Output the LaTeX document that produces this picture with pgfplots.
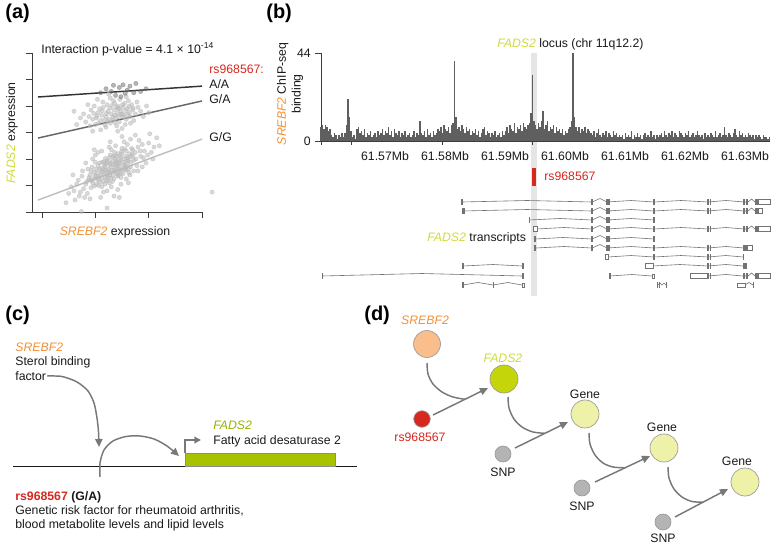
\documentclass[border=0pt]{standalone}
\usepackage{pgfplots}
\pgfplotsset{compat=1.18}
\usepackage{pgfplotstable}
\usepackage{fontspec}
\setmainfont{Liberation Sans}
\usetikzlibrary{arrows.meta}

\definecolor{srebf}{RGB}{240,145,55}
\definecolor{fadsl}{RGB}{208,218,60}
\definecolor{fadsd}{RGB}{150,180,0}
\definecolor{rsred}{RGB}{215,40,30}
\definecolor{barg}{RGB}{168,194,0}
\definecolor{fadsc}{RGB}{196,214,10}
\definecolor{genec}{RGB}{238,242,168}
\definecolor{srebfc}{RGB}{250,190,140}
\definecolor{snpc}{RGB}{180,180,180}
\definecolor{arrowc}{RGB}{120,120,120}
\definecolor{txc}{RGB}{115,115,115}
\definecolor{chipc}{RGB}{95,95,95}
\definecolor{axc}{RGB}{60,60,60}
\definecolor{textc}{RGB}{25,25,25}
\definecolor{ptc}{RGB}{185,185,185}
\definecolor{ptd}{RGB}{110,110,110}

\newcommand{\fs}{\fontsize{9.2}{11}\selectfont}
\newcommand{\lab}{\fontsize{15}{18}\selectfont\bfseries}
\newcommand{\ex}[3]{\addplot[exf] coordinates {(#1,#3)(#2,#3)};}
\newcommand{\ub}[4]{\addplot[utr] coordinates {(#1,#3)(#2,#3)(#2,#4)(#1,#4)} -- cycle;}

\pgfplotstableread[row sep=\\]{y\\
7\\8\\6\\8\\7\\5\\6\\3\\2\\4\\3\\1\\3\\2\\4\\2\\4\\8\\21\\12\\5\\
2\\3\\1\\6\\7\\4\\5\\3\\6\\2\\4\\3\\5\\2\\3\\4\\2\\5\\3\\
4\\6\\3\\5\\4\\7\\3\\5\\2\\6\\4\\3\\5\\2\\4\\3\\5\\2\\3\\4\\2\\3\\5\\2\\4\\3\\
10\\4\\3\\5\\2\\6\\3\\4\\2\\5\\3\\4\\6\\5\\7\\4\\8\\6\\5\\7\\4\\8\\9\\
40\\12\\6\\7\\5\\8\\6\\4\\7\\5\\6\\
3\\5\\4\\6\\3\\5\\2\\4\\6\\7\\3\\5\\4\\2\\4\\3\\5\\2\\3\\4\\2\\5\\3\\
5\\7\\4\\8\\6\\5\\9\\4\\7\\6\\8\\5\\9\\7\\6\\8\\9\\
14\\33\\10\\8\\6\\9\\7\\10\\15\\
6\\8\\10\\5\\7\\6\\8\\4\\7\\5\\6\\4\\6\\3\\5\\4\\6\\7\\10\\
44\\12\\7\\5\\7\\4\\6\\5\\7\\4\\6\\5\\4\\
3\\5\\2\\4\\6\\3\\2\\4\\3\\5\\2\\4\\3\\2\\5\\3\\4\\2\\3\\
2\\3\\1\\4\\2\\3\\2\\5\\1\\3\\2\\4\\2\\3\\1\\3\\4\\2\\3\\2\\5\\2\\3\\1\\3\\2\\
3\\4\\2\\5\\3\\2\\4\\3\\5\\2\\4\\3\\2\\5\\4\\3\\2\\4\\3\\5\\2\\3\\4\\2\\3\\5\\3\\
2\\3\\1\\4\\2\\3\\2\\4\\3\\2\\5\\2\\3\\4\\2\\3\\7\\3\\2\\4\\3\\2\\4\\6\\3\\2\\5\\3\\4\\2\\
3\\2\\4\\3\\2\\3\\1\\3\\2\\3\\2\\1\\3\\2\\2\\1\\2\\
}\chipdata

\begin{document}
\fs
\begin{tikzpicture}
%================ overlay (diagram layer, pixel coordinates) =================
\begin{axis}[name=ov, at={(0,0)}, anchor=north west, width=582pt, height=408.75pt,
  scale only axis, xmin=0, xmax=776, ymin=0, ymax=545, y dir=reverse,
  axis lines=none, clip=false, enlargelimits=false,
  intr/.style={draw=txc, line width=0.45pt},
  exf/.style={draw=txc, line width=4.5pt},
  utr/.style={draw=txc, line width=0.45pt, fill=white},
  arr/.style={draw=arrowc, line width=1.1pt, -{Triangle[length=6pt,width=5.5pt]}}]
% highlight band
\addplot[draw=none, fill=black!10] coordinates {(531,53)(537,53)(537,296)(531,296)} -- cycle;
% small x tick marks of the ChIP track
\addplot[draw=axc, line width=0.5pt] coordinates {(321,141)(321,145)};
\addplot[draw=axc, line width=0.5pt] coordinates {(351,141)(351,145)};
\addplot[draw=axc, line width=0.5pt] coordinates {(442,141)(442,145)};
\addplot[draw=axc, line width=0.5pt] coordinates {(532,141)(532,145)};
% panel labels
\node[anchor=west, font=\lab] at (axis cs:1,13) {(a)};
\node[anchor=west, font=\lab] at (axis cs:262,13) {(b)};
\node[anchor=west, font=\lab] at (axis cs:1,315) {(c)};
\node[anchor=west, font=\lab] at (axis cs:360,315) {(d)};
% panel (a) texts
\node[anchor=west, text=textc] at (axis cs:37,49) {Interaction p-value = 4.1 × 10\textsuperscript{-14}};
\node[anchor=west, text=rsred] at (axis cs:205,69) {rs968567:};
\node[anchor=west, text=textc] at (axis cs:205,84) {A/A};
\node[anchor=west, text=textc] at (axis cs:205,99) {G/A};
\node[anchor=west, text=textc] at (axis cs:205,137) {G/G};
\node[rotate=90, text=textc] at (axis cs:12,133) {\textcolor{fadsl}{\itshape FADS2} expression};
\node[text=textc] at (axis cs:115,232) {\textcolor{srebf}{\itshape SREBF2} expression};
% panel (b) texts
\node[anchor=west, text=textc] at (axis cs:493,44) {\textcolor{fadsl}{\itshape FADS2} locus (chr 11q12.2)};
\node[rotate=90, align=center, text=textc] at (axis cs:290,94) {\textcolor{srebf}{\itshape SREBF2} ChIP-seq\\binding};
\addplot[draw=rsred, line width=3pt] coordinates {(534,168)(534,186)};
\node[anchor=west, text=rsred] at (axis cs:540,176) {rs968567};
\node[anchor=west, text=textc] at (axis cs:423,238) {\textcolor{fadsl}{\itshape FADS2} transcripts};
% transcripts
% row 1
\addplot[intr] coordinates {(462,202)(527,200.5)(592,202)(600,198.5)(607,202)(631,200.5)(654,202)(681,200.5)(708,202)(726,200.5)(744,202)(748,202)(751.5,199)(755,202)(758,202)};
\ex{461}{463}{202}\ex{591}{593}{202}\ex{606}{609.5}{202}\ex{653}{655}{202}\ex{707}{708.5}{202}\ex{709.5}{711}{202}\ex{743}{744.5}{202}\ex{745.5}{747.5}{202}\ex{755}{758}{202}
\ub{758}{770}{199.5}{204.5}
% row 2
\addplot[intr] coordinates {(463,211)(527,209.5)(592,211)(600,207.5)(607,211)(631,209.5)(654,211)(681,209.5)(708,211)(726,209.5)(744,211)(748,211)(751.5,208)(755,211)};
\ex{462}{464.5}{211}\ex{591}{593}{211}\ex{606}{609.5}{211}\ex{653}{655}{211}\ex{707}{708.5}{211}\ex{709.5}{711}{211}\ex{743}{744.5}{211}\ex{745.5}{747.5}{211}\ex{755}{758}{211}
\ub{758}{762}{208.5}{213.5}
% row 3
\addplot[intr] coordinates {(529,220)(560,218.5)(592,220)(600,216.5)(607,220)(631,218.5)(654,220)};
\ex{528.5}{530}{220}\ex{591}{593}{220}\ex{606}{609.5}{220}\ex{653}{655}{220}
% row 4
\addplot[intr] coordinates {(537,229)(564,227.5)(592,229)(600,225.5)(607,229)(631,227.5)(654,229)(681,227.5)(708,229)(726,227.5)(744,229)(748,229)(751.5,226)(755,229)(758,229)};
\ub{533}{537}{226.5}{231.5}
\ex{591}{593}{229}\ex{606}{609.5}{229}\ex{653}{655}{229}\ex{707}{708.5}{229}\ex{709.5}{711}{229}\ex{743}{744.5}{229}\ex{745.5}{747.5}{229}\ex{755}{758}{229}
\ub{758}{770}{226.5}{231.5}
% row 5
\addplot[intr] coordinates {(535,239)(563,237.5)(592,239)(600,235.5)(607,239)(631,237.5)(654,239)};
\ex{533.5}{535.5}{239}\ex{591}{593}{239}\ex{606}{609.5}{239}\ex{653}{655}{239}
% row 6
\addplot[intr] coordinates {(536,248)(564,246.5)(592,248)(600,244.5)(607,248)(631,246.5)(654,248)(681,246.5)(708,248)(726,246.5)(744,248)};
\ex{534}{536}{248}\ex{591}{593}{248}\ex{606}{609.5}{248}\ex{653}{655}{248}\ex{707}{708.5}{248}\ex{709.5}{711}{248}\ex{743}{747.5}{248}
\ub{747.5}{752}{245.5}{250.5}
% row 7
\addplot[intr] coordinates {(608,257)(631,255.5)(654,257)(681,255.5)(708,257)(726,255.5)(743,257)};
\ub{605}{608}{254.5}{259.5}
\ex{653}{655}{257}\ex{707}{708.5}{257}\ex{709.5}{711}{257}\ex{742.5}{744}{257}
% row 8
\addplot[intr] coordinates {(463,266)(493,264.5)(522,266)};
\ex{462}{463.5}{266}\ex{521.5}{524}{266}
\addplot[intr] coordinates {(653,266)(680,264.5)(708,266)(726,264.5)(743,266)};
\ub{645}{653}{263.5}{268.5}
\ex{707}{708.5}{266}\ex{709.5}{711}{266}\ex{743}{747}{266}
% row 9
\addplot[intr] coordinates {(322,276)(422,273.5)(522,276)};
\ex{321.5}{323}{276}\ex{521.5}{524}{276}
\addplot[intr] coordinates {(610,276)(632,274.5)(652,276)};
\ex{609}{610.5}{276}
\ub{652}{654}{274}{278}
\addplot[intr] coordinates {(708,276)(726,274.5)(743,276)(748,276)(751.5,273)(755,276)};
\ub{690}{707}{273.5}{278.5}
\ex{707}{708.5}{276}\ex{709.5}{711}{276}\ex{743}{744.5}{276}\ex{745.5}{747.5}{276}\ex{755}{758}{276}
\ub{758}{770}{273.5}{278.5}
% row 10
\addplot[intr] coordinates {(463,285)(478,282.5)(493,285)(508,282.5)(522,285)};
\ex{462}{463.5}{285}\ex{492.5}{494}{285}
\ub{522}{524}{283}{287}
\addplot[intr] coordinates {(658,285)(660,283)(662,285)(664,283)(666,285)};
\ex{656.5}{657.5}{285}\ex{658.5}{659.5}{285}\ex{665.5}{666.5}{285}
\addplot[intr] coordinates {(745,285)(749,282.5)(753,285)};
\ub{737}{745}{283}{287}
\ex{753}{754}{285}
% ---------------- panel (c) ----------------
\addplot[draw=textc, line width=0.6pt] coordinates {(13,466)(357,466)};
\addplot[fill=barg, draw=black!45, line width=0.5pt] coordinates {(185,453)(335,453)(335,466)(185,466)} -- cycle;
\addplot[draw=arrowc, line width=1pt, -{Triangle[length=5pt,width=5pt]}] coordinates {(185,453)(185,440)(201,440)};
\addplot[arr, smooth] coordinates {(100,477)(100,463)(104,450)(113,441)(126,436.5)(140,436)(154,439)(167,446)(179,456)};
\addplot[arr, smooth] coordinates {(47,376)(62,376.5)(77,382)(88,391)(94,403)(97,418)(98.5,432)(99,447)};
\node[anchor=west, text=srebf, font=\fs\itshape] at (axis cs:11,347) {SREBF2};
\node[anchor=west, text=textc] at (axis cs:11,362) {Sterol binding};
\node[anchor=west, text=textc] at (axis cs:11,376) {factor};
\node[anchor=west, text=fadsd, font=\fs\itshape] at (axis cs:209,425) {FADS2};
\node[anchor=west, text=textc] at (axis cs:209,441) {Fatty acid desaturase 2};
\node[anchor=west, font=\fs\bfseries, text=textc] at (axis cs:11,497) {\textcolor{rsred}{rs968567} (G/A)};
\node[anchor=west, text=textc] at (axis cs:11,511) {Genetic risk factor for rheumatoid arthritis,};
\node[anchor=west, text=textc] at (axis cs:11,525) {blood metabolite levels and lipid levels};
% ---------------- panel (d) ----------------
\addplot[arr] coordinates {(433,415)(488,388)};
\addplot[arr] coordinates {(515,448)(568,422)};
\addplot[arr] coordinates {(595,482)(650,456)};
\addplot[arr] coordinates {(675,517)(728,489)};
\addplot[draw=arrowc, line width=1.1pt, smooth] coordinates {(427,363)(428,374)(433,384)(442,392)(453,397)(465,399.3)};
\addplot[draw=arrowc, line width=1.1pt, smooth] coordinates {(508,397)(509,408)(514,419)(522,427)(533,432)(545,433.3)};
\addplot[draw=arrowc, line width=1.1pt, smooth] coordinates {(589,433)(590,444)(595,455)(603,463)(613,467)(625,467.8)};
\addplot[draw=arrowc, line width=1.1pt, smooth] coordinates {(668,467)(669,478)(674,489)(682,497)(692,501.5)(703,502.2)};
\addplot[only marks, mark=*, mark size=10.1pt, mark options={fill=srebfc, draw=black!40, line width=0.5pt}] coordinates {(427,344)};
\addplot[only marks, mark=*, mark size=10.5pt, mark options={fill=fadsc, draw=black!40, line width=0.5pt}] coordinates {(504,379)};
\addplot[only marks, mark=*, mark size=10.5pt, mark options={fill=genec, draw=black!40, line width=0.5pt}] coordinates {(585,414)(664,448)(745,482)};
\addplot[only marks, mark=*, mark size=6.2pt, mark options={fill=rsred, draw=black!40, line width=0.5pt}] coordinates {(422,419)};
\addplot[only marks, mark=*, mark size=6pt, mark options={fill=snpc, draw=black!40, line width=0.5pt}] coordinates {(503,454)(582,488)(663,522)};
\node[text=srebf, font=\fs\itshape] at (axis cs:425,320) {SREBF2};
\node[text=fadsl, font=\fs\itshape] at (axis cs:503,358) {FADS2};
\node[text=rsred] at (axis cs:420,437) {rs968567};
\node[text=textc] at (axis cs:585,394) {Gene};
\node[text=textc] at (axis cs:662,427) {Gene};
\node[text=textc] at (axis cs:737,461) {Gene};
\node[text=textc] at (axis cs:503,472) {SNP};
\node[text=textc] at (axis cs:582,506) {SNP};
\node[text=textc] at (axis cs:663,538) {SNP};
\end{axis}

%================ panel (a): scatter =================
\begin{axis}[at={(24pt,-159pt)}, anchor=south west, width=127.5pt, height=119.25pt,
  scale only axis, xmin=-0.1875, xmax=3, ymin=0, ymax=6,
  axis x line*=bottom, axis y line*=left,
  axis line style={-, draw=axc, line width=0.5pt},
  tick align=outside, tick style={draw=axc, line width=0.5pt}, major tick length=4.5pt,
  xtick={0,1,2,3}, ytick={0,1,2,3,4,5,6}, xticklabels={}, yticklabels={}, clip=false]
\addplot[only marks, mark=*, mark size=1.6pt, color=ptc, opacity=0.55] coordinates {
(1.02,1.35)(1.15,1.62)(1.28,1.48)(1.40,1.85)(0.95,1.10)(1.22,1.95)(1.35,1.25)(1.48,2.05)(1.10,1.40)(1.30,1.70)
(1.55,1.60)(0.88,1.22)(1.18,1.05)(1.42,2.20)(1.25,1.55)(1.62,1.95)(1.05,1.75)(1.33,1.38)(0.98,1.50)(1.45,1.72)
(1.70,2.10)(1.12,1.28)(1.38,2.00)(0.92,0.92)(1.20,1.82)(1.52,1.45)(1.28,2.15)(1.08,1.60)(1.58,2.30)(1.36,1.58)
(0.82,1.05)(1.15,1.15)(1.44,1.90)(1.66,1.70)(1.24,1.30)(1.00,1.88)(1.50,2.40)(1.32,1.92)(0.90,1.40)(1.75,2.25)
(1.18,1.70)(1.40,1.45)(1.26,1.10)(1.60,1.82)(1.06,1.20)(1.46,2.12)(0.86,1.62)(1.30,2.35)(1.72,1.55)(1.12,0.95)
(1.55,2.00)(1.22,1.40)(0.96,1.25)(1.38,1.65)(1.80,2.45)(1.04,1.48)(1.48,1.30)(1.16,1.90)(1.64,2.20)(0.78,0.88)
(1.34,1.80)(1.58,1.58)(1.10,1.65)(1.42,1.35)(0.94,1.70)(1.26,2.05)(1.68,2.40)(1.20,1.22)(1.52,1.88)(1.02,1.05)
(1.85,2.10)(1.36,2.25)(0.88,1.30)(1.14,1.52)(1.62,1.62)(1.28,1.85)(1.46,1.55)(0.98,0.98)(1.76,2.00)(1.08,1.85)
(1.40,2.10)(1.24,1.62)(1.56,1.75)(0.84,1.15)(1.32,1.15)(1.70,2.35)(1.18,1.35)(1.50,2.20)(0.92,1.55)(1.44,1.60)
(1.92,2.30)(0.72,0.75)(1.60,2.55)(1.06,1.00)(2.00,2.60)(0.65,1.05)(1.95,1.85)(0.80,0.55)(1.82,2.70)(0.60,0.80)
(2.05,2.25)(0.75,1.35)(1.88,2.55)(1.22,0.80)(1.00,2.15)(1.65,1.40)(1.12,2.30)(1.48,1.05)(0.70,0.60)(2.10,2.45)
(1.78,1.75)(0.85,0.70)(1.54,2.65)(1.30,0.95)(0.95,2.00)(1.90,2.05)(0.55,0.95)(1.38,2.50)(1.72,1.95)(1.15,0.75)
(0.68,1.20)(1.84,2.30)(1.26,2.45)(1.58,1.25)(0.90,0.50)(2.15,2.80)(1.42,0.85)(1.05,2.25)(1.98,2.15)(0.76,1.55)
(1.35,0.60)(1.66,2.75)(0.62,0.45)(1.80,1.55)(1.10,0.55)(2.02,2.95)(0.50,0.70)(1.50,2.85)(1.62,1.10)(0.98,2.35)
(1.22,0.15)(2.20,2.50)(0.58,1.40)(1.75,2.90)(1.45,0.55)(0.45,0.35)(1.28,2.65)(1.88,1.70)(0.82,1.85)(2.08,2.00)
(1.13,1.50)(1.27,1.78)(1.37,1.52)(1.47,1.95)(1.57,2.10)(1.07,1.32)(1.19,1.58)(1.29,1.28)(1.41,1.72)(1.51,1.62)
(1.61,2.05)(1.01,1.62)(1.23,1.88)(1.33,2.08)(1.43,1.40)(1.53,1.78)(1.63,1.48)(1.09,1.12)(1.21,1.48)(1.31,1.58)
(1.39,1.92)(1.49,2.28)(1.59,1.92)(1.69,2.18)(0.99,1.38)(1.17,1.78)(1.27,1.38)(1.37,1.78)(1.47,1.45)(1.57,1.68)
(1.67,1.88)(0.93,1.18)(1.13,1.88)(1.23,1.18)(1.35,2.12)(1.45,1.82)(1.55,2.38)(1.65,2.08)(1.03,1.25)(1.19,2.02)
(0.74,0.02)(3.19,0.75)
(1.20,3.60)(1.35,3.85)(1.50,3.70)(1.10,3.45)(1.42,4.00)(1.28,3.35)(1.60,3.90)(1.05,3.75)(1.38,3.55)(1.55,4.10)
(1.15,3.95)(1.30,3.70)(1.65,3.60)(0.95,3.50)(1.45,3.40)(1.22,4.05)(1.70,3.85)(1.00,3.30)(1.34,4.20)(1.58,3.50)
(1.12,3.65)(1.48,3.80)(0.88,3.60)(1.26,3.50)(1.62,4.20)(1.40,3.25)(1.08,3.90)(1.75,3.70)(1.18,3.28)(1.52,3.95)
(0.92,3.85)(1.36,3.65)(1.68,4.05)(1.02,3.55)(1.44,3.60)(1.24,3.80)(1.80,3.95)(0.82,3.40)(1.56,3.30)(1.14,4.15)
(1.32,3.45)(1.64,3.75)(0.98,4.00)(1.46,4.25)(1.20,3.20)(1.72,3.45)(0.78,3.70)(1.40,3.95)(1.85,3.80)(1.06,3.35)
(1.54,3.65)(0.90,3.25)(1.28,4.30)(1.66,3.35)(1.10,3.10)(1.96,4.00)(0.72,3.55)(1.50,3.15)(1.36,4.10)(0.86,4.05)
(1.90,3.60)(0.65,3.30)(1.58,4.35)(1.04,4.25)(1.78,4.15)(0.60,3.80)(2.00,3.75)(1.42,3.05)(0.95,3.05)(1.25,4.45)
(1.21,3.72)(1.33,3.58)(1.43,3.88)(1.53,3.58)(1.63,3.98)(1.13,3.82)(1.27,3.92)(1.37,3.38)(1.47,3.68)(1.57,3.82)
(1.03,3.62)(1.17,3.48)(1.31,4.02)(1.41,3.72)(1.51,4.05)(1.61,3.68)(1.71,3.92)(0.97,3.72)(1.23,3.42)(1.45,3.92)
};
\addplot[only marks, mark=*, mark size=1.6pt, color=ptd, opacity=0.5] coordinates {
(1.30,4.55)(1.45,4.70)(1.60,4.60)(1.52,4.80)(1.72,4.50)(1.38,4.40)(1.20,4.65)(1.65,4.75)(1.85,4.55)(1.48,4.35)(1.10,4.50)(1.95,4.65)(1.56,4.48)(1.76,4.85)(1.34,4.78)
};
\addplot[draw=black!80, line width=1.1pt] coordinates {(-0.075,4.34)(3,4.75)};
\addplot[draw=black!60, line width=1.1pt] coordinates {(-0.075,2.79)(3,4.19)};
\addplot[draw=black!25, line width=1.1pt] coordinates {(-0.075,0.45)(3,2.75)};
\end{axis}

%================ panel (b): ChIP-seq track =================
\begin{axis}[at={(240.75pt,-105.75pt)}, anchor=south west, width=336.75pt, height=66pt,
  scale only axis, xmin=0, xmax=299.33, ymin=0, ymax=44,
  axis x line*=bottom, axis y line*=left,
  axis line style={-, draw=axc, line width=0.5pt},
  tick align=outside, major tick length=4.5pt,
  xtick={42.67,82.67,122.67,162.67,202.67,242.67,282.67},
  xticklabels={61.57Mb,61.58Mb,61.59Mb,61.60Mb,61.61Mb,61.62Mb,61.63Mb},
  xtick style={draw=none}, ytick={0,44}, ytick style={draw=axc, line width=0.5pt},
  /pgf/number format/assume math mode=true,
  ticklabel style={text=textc}, clip=false]
\addplot[ycomb, draw=chipc, line width=0.95pt] table[x expr=\coordindex, y=y] {\chipdata};
\end{axis}
\pgfresetboundingbox
\useasboundingbox (0,0) rectangle (582pt,-408.75pt);
\end{tikzpicture}
\end{document}
